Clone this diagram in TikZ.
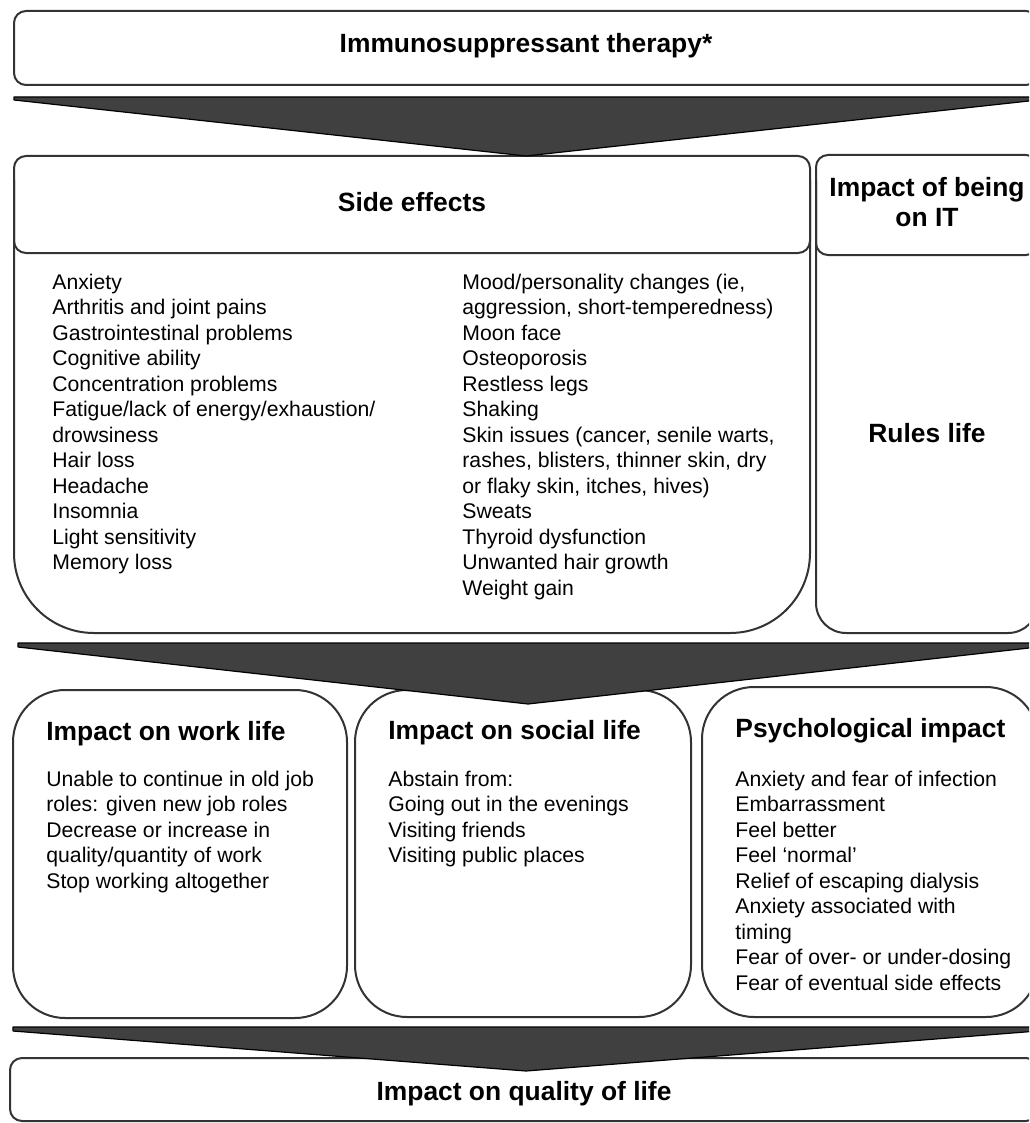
\documentclass[tikz,border=0pt]{standalone}
\usepackage{fontspec}
\setmainfont{Liberation Sans}
\usepackage{xcolor}
\definecolor{funnelgray}{HTML}{404040}
\definecolor{edgegray}{HTML}{333333}
\tikzset{
  boxline/.style={draw=edgegray, line width=1pt},
  funnel/.style={draw=black, fill=funnelgray, line width=0.6pt, line join=round},
  headtext/.style={font=\bfseries\fontsize{13.2}{15}\selectfont, inner sep=0pt},
  itemlist/.style={font=\fontsize{10.6}{12.75}\selectfont, align=left, anchor=base west, inner sep=0pt}
}

\begin{document}
\begin{tikzpicture}[x=0.5pt,y=-0.5pt]
      \useasboundingbox (0,0) rectangle (1029,1123);
      \clip (0,0) rectangle (1029,1123);
      % boxes
      \draw [boxline, rounded corners=6pt] (14,11) rectangle (1038,85);
      \draw [boxline, rounded corners=40pt] (14,180) -- (14,633) -- (810,633) -- (810,180);
      \draw [boxline, rounded corners=6pt] (14,156) rectangle (810,253);
      \draw [boxline, rounded corners=15pt] (816,180) -- (816,633) -- (1038,633) -- (1038,180);
      \draw [boxline, rounded corners=6pt] (816,155) rectangle (1038,255);
      \draw [boxline, rounded corners=26pt] (13,690) rectangle (347,1018);
      \draw [boxline, rounded corners=26pt] (355,690) rectangle (691,1017);
      \draw [boxline, rounded corners=26pt] (702,687) rectangle (1038,1017);
      \draw [boxline, rounded corners=6pt] (10,1058) rectangle (1038,1121);
      % funnels
      \draw [funnel] (14,97) -- (1038,97) -- (1038,100) -- (526,156) -- (14,100) -- cycle;
      \draw [funnel] (18,643) -- (1038,643) -- (1038,647) -- (528,704) -- (18,647) -- cycle;
      \draw [funnel] (13,1027) -- (1038,1027) -- (1038,1031) -- (526,1071) -- (13,1031) -- cycle;
      % titles (base of a list = its last line)
      \node (therapy) [headtext, anchor=base] at (526,53) {Immunosuppressant therapy*};
      \node (sidefx) [headtext, anchor=base] at (412,212) {Side effects};
      \node (beingit) [headtext, anchor=base, align=center] at (927,227) {Impact of being\\on IT};
      \node (rules) [headtext, anchor=base] at (927,442) {Rules life};
      \node (work) [headtext, anchor=base west] at (46,740) {Impact on work life};
      \node (social) [headtext, anchor=base west] at (388,739) {Impact on social life};
      \node (psych) [headtext, anchor=base west] at (735,737) {Psychological impact};
      \node (qol) [headtext, anchor=base] at (524,1100) {Impact on quality of life};
      % lists
      \node (sfxleft) [itemlist] at (52,569.5) {Anxiety\\Arthritis and joint pains\\Gastrointestinal problems\\Cognitive ability\\Concentration problems\\Fatigue/lack of energy/exhaustion/\\drowsiness\\Hair loss\\Headache\\Insomnia\\Light sensitivity\\Memory loss};
      \node (sfxright) [itemlist] at (462,595) {Mood/personality changes (ie,\\aggression, short-temperedness)\\Moon face\\Osteoporosis\\Restless legs\\Shaking\\Skin issues (cancer, senile warts,\\rashes, blisters, thinner skin, dry\\or flaky skin, itches, hives)\\Sweats\\Thyroid dysfunction\\Unwanted hair growth\\Weight gain};
      \node (worklist) [itemlist] at (46,888) {Unable to continue in old job\\roles: given new job roles\\Decrease or increase in\\quality/quantity of work\\Stop working altogether};
      \node (sociallist) [itemlist] at (388,862.5) {Abstain from:\\Going out in the evenings\\Visiting friends\\Visiting public places};
      \node (psychlist) [itemlist] at (735,990) {Anxiety and fear of infection\\Embarrassment\\Feel better\\Feel ‘normal’\\Relief of escaping dialysis\\Anxiety associated with\\timing\\Fear of over- or under-dosing\\Fear of eventual side effects};
    \end{tikzpicture}
\end{document}
